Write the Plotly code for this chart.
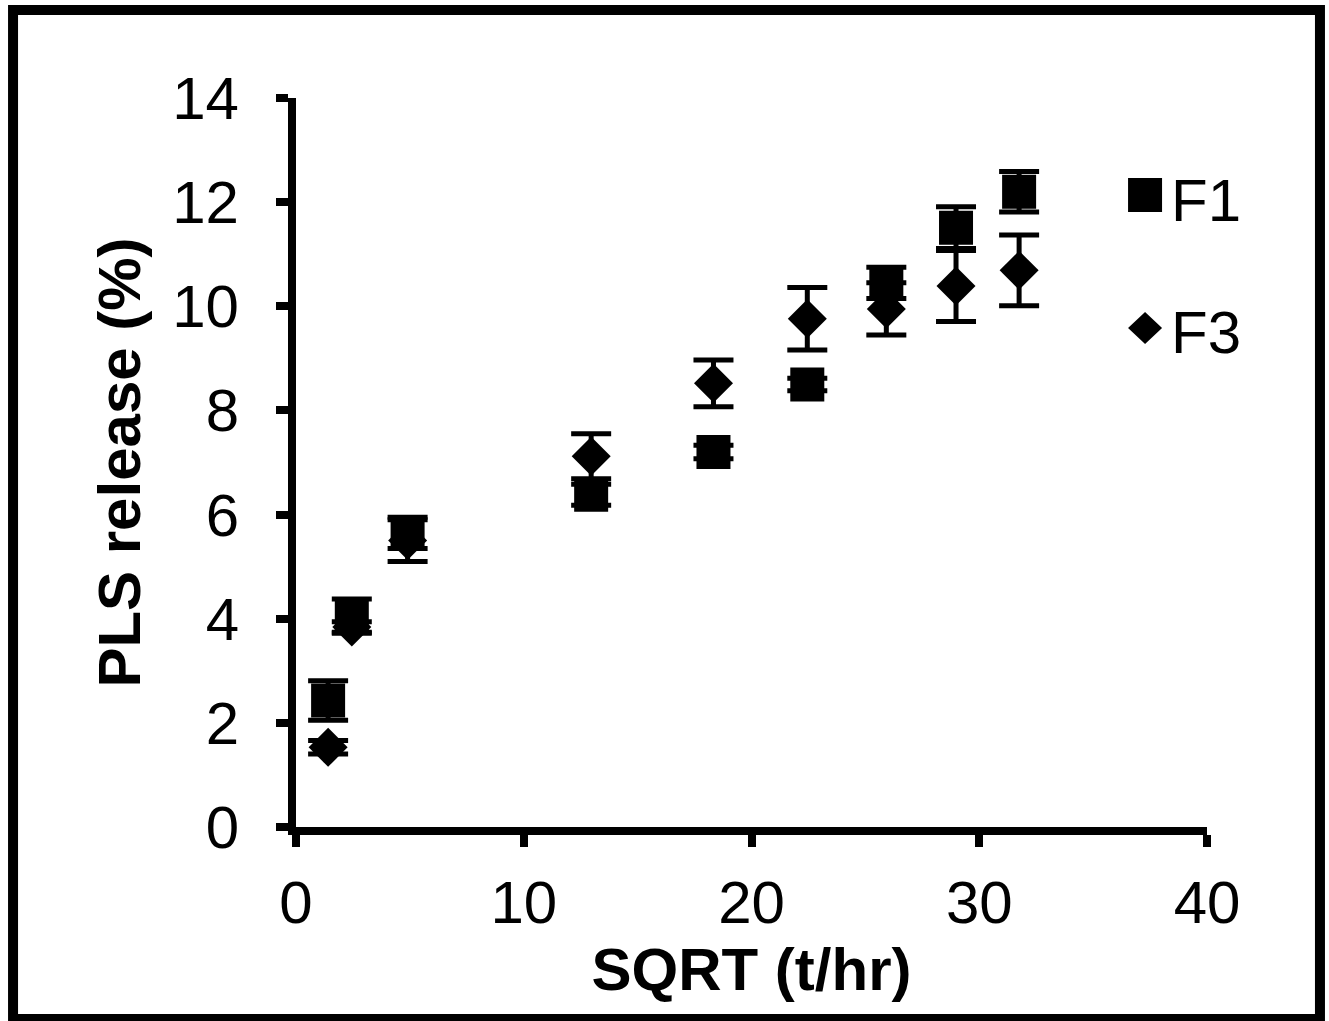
import plotly.graph_objects as go

# sqrt of sampling time (hours)
sqrt_t = [1.41, 2.45, 4.90, 12.96, 18.33, 22.45, 25.92, 28.98, 31.75]

f1_release = [2.43, 4.05, 5.65, 6.38, 7.20, 8.50, 10.45, 11.51, 12.20]
f1_err = [0.38, 0.33, 0.30, 0.20, 0.13, 0.12, 0.30, 0.40, 0.39]

f3_release = [1.53, 3.84, 5.50, 7.12, 8.52, 9.76, 9.95, 10.39, 10.69]
f3_err = [0.13, 0.10, 0.40, 0.43, 0.45, 0.60, 0.50, 0.68, 0.68]

series = [("F3", f3_release, f3_err, "diamond", 30),
          ("F1", f1_release, f1_err, "square", 34)]

FONT = "Liberation Sans, Arial, sans-serif"

fig = go.Figure()
for name, vals, err, sym, size in series:
    fig.add_trace(go.Scatter(
        x=sqrt_t, y=vals, name=name, mode="markers",
        marker=dict(symbol=sym, size=size, color="black"),
        error_y=dict(type="data", array=err, color="black", thickness=5, width=20),
        showlegend=False,
    ))

# legend keys drawn as shapes so they keep the large size of the original
fig.add_shape(type="rect", xref="paper", yref="paper", xsizemode="pixel", ysizemode="pixel",
              xanchor=0.932, yanchor=0.867, x0=-17, x1=17, y0=-17, y1=17,
              fillcolor="black", line_width=0)
fig.add_shape(type="path", xref="paper", yref="paper", xsizemode="pixel", ysizemode="pixel",
              xanchor=0.932, yanchor=0.6845, path="M -17 0 L 0 16 L 17 0 L 0 -16 Z",
              fillcolor="black", line_width=0)
for label, ypos in [("F1", 0.860), ("F3", 0.678)]:
    fig.add_annotation(text=label, xref="paper", yref="paper", x=0.958, y=ypos,
                       xanchor="left", yanchor="middle", showarrow=False,
                       font=dict(family=FONT, size=60, color="black"))

# outer frame
fig.add_shape(type="rect", xref="paper", yref="paper",
              x0=-0.3106, x1=1.1240, y0=-0.2634, y1=1.1207,
              line=dict(color="black", width=10), fillcolor="rgba(0,0,0,0)")

fig.update_xaxes(
    range=[0, 40], tickvals=[0, 10, 20, 30, 40],
    showline=True, linewidth=8, linecolor="black",
    ticks="outside", ticklen=12, tickwidth=8, tickcolor="black",
    showgrid=False, zeroline=False, ticklabelstandoff=4,
    tickfont=dict(family=FONT, size=60, color="black"),
    title=dict(text="<b>SQRT (t/hr)</b>", standoff=7,
               font=dict(family=FONT, size=60, color="black")),
)
fig.update_yaxes(
    range=[0, 14], tickvals=[0, 2, 4, 6, 8, 10, 12, 14],
    showline=True, linewidth=8, linecolor="black",
    ticks="outside", ticklen=12, tickwidth=8, tickcolor="black",
    showgrid=False, zeroline=False, ticklabelstandoff=25,
    tickfont=dict(family=FONT, size=60, color="black"),
    title=dict(text="<b>PLS release (%)</b>", standoff=15,
               font=dict(family=FONT, size=60, color="black")),
)
fig.update_layout(
    width=1329, height=1021, autosize=False,
    margin=dict(l=296, r=122, t=98, b=194),
    plot_bgcolor="white", paper_bgcolor="white",
)
fig.write_html("out.html", config={"displayModeBar": False},
               post_script="document.body.style.margin='0';")
